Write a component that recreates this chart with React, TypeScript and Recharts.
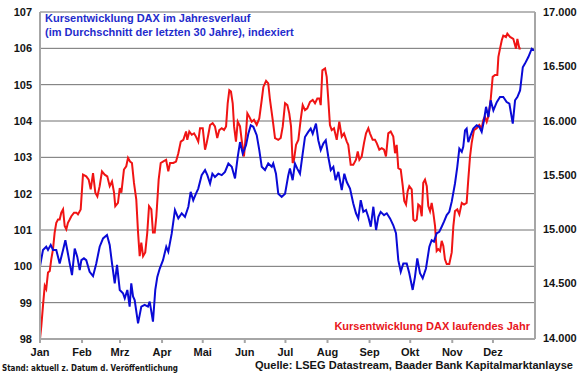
import { LineChart, Line, XAxis, YAxis, CartesianGrid } from "recharts";

const MONTH_STARTS = [0, 31, 59, 90, 120, 151, 181, 212, 243, 273, 304, 334];
const MONTH_LABELS = ["Jan", "Feb", "Mrz", "Apr", "Mai", "Jun", "Jul", "Aug", "Sep", "Okt", "Nov", "Dez"];
const LEFT_TICKS = [98, 99, 100, 101, 102, 103, 104, 105, 106, 107];
const RIGHT_TICKS = [14000, 14500, 15000, 15500, 16000, 16500, 17000];

// Saisonaler Verlauf (30-Jahres-Schnitt), indexiert, linke Achse
const SEASONAL_DAYS = [
  0, 2.2, 4.6, 5.9, 7.9, 9.6, 12.0, 14.5, 17.0, 18.7, 20.1, 21.9, 23.6, 25.6, 27.5, 29.3, 30.5, 32.4, 34.1, 36.6,
  39.1, 41.5, 44.0, 46.5, 49.4, 51.4, 53.1, 55.1, 56.8, 58.8, 61.2, 62.5, 64.4, 66.1, 67.3, 68.6, 69.8, 72.3, 74.7,
  77.2, 79.6, 80.9, 83.3, 85.0, 86.5, 88.3, 90.7, 93.1, 94.6, 97.1, 99.5, 102.0, 104.5, 106.9, 109.4, 111.1, 113.0,
  115.0, 116.7, 119.2, 121.7, 123.4, 125.4, 127.1, 129.0, 131.5, 134.0, 136.4, 138.9, 141.4, 143.8, 145.8, 147.5,
  149.5, 151.9, 153.6, 155.4, 157.3, 159.8, 161.7, 163.5, 165.9, 168.3, 170.9, 172.0, 174.0, 175.7, 178.2, 180.7,
  183.1, 184.3, 186.3, 188.0, 189.7, 191.7, 193.7, 195.4, 197.8, 199.6, 201.1, 203.5, 205.2, 207.0, 208.9, 210.7,
  212.6, 214.4, 216.3, 218.0, 220.0, 222.5, 224.4, 226.2, 228.6, 231.0, 233.0, 234.7, 236.5, 238.4, 240.4, 242.1,
  243.9, 245.8, 247.8, 249.5, 251.2, 253.7, 255.7, 258.1, 260.5, 262.5, 264.2, 266.0, 267.9, 270.4, 272.3, 274.8,
  276.5, 278.2, 280.2, 282.2, 284.6, 287.1, 288.8, 290.5, 292.5, 294.4, 296.2, 297.9, 299.9, 301.8, 303.6, 306.0,
  307.7, 309.2, 311.0, 312.1, 313.4, 314.6, 315.8, 317.6, 319.5, 322.0, 323.9, 325.7, 327.4, 328.9, 330.6, 332.3,
  334.3, 336.8, 339.2, 341.6, 344.1, 346.1, 348.6, 350.3, 352.0, 354.0, 356.0, 357.6, 360.1, 362.6, 364.5,
];
const SEASONAL_INDEX = [
  100.0, 100.45, 100.54, 100.45, 100.59, 100.45, 100.45, 100.08, 100.45, 100.72, 100.45, 100.08, 99.76, 100.49,
  100.26, 99.9, 100.17, 100.22, 100.17, 99.85, 99.73, 100.08, 100.54, 100.77, 100.86, 100.59, 100.08, 99.53, 100.04,
  99.35, 99.26, 99.12, 99.35, 98.89, 99.53, 99.17, 99.07, 98.43, 98.89, 98.94, 98.89, 99.03, 98.48, 99.35, 99.71,
  99.94, 100.17, 100.54, 100.4, 100.9, 101.55, 101.32, 101.46, 101.36, 101.64, 102.05, 101.82, 102.0, 102.14, 102.51,
  102.65, 102.51, 102.28, 102.55, 102.46, 102.55, 102.51, 102.6, 102.83, 102.74, 102.42, 103.01, 103.42, 103.1,
  103.33, 103.65, 103.88, 103.84, 103.61, 103.2, 102.74, 102.65, 102.83, 102.74, 102.83, 102.55, 102.0, 101.91, 102.0,
  102.51, 102.69, 102.37, 102.83, 102.69, 102.55, 103.1, 103.56, 103.7, 103.79, 103.65, 103.93, 103.47, 103.2,
  103.38, 103.47, 103.01, 102.65, 102.74, 102.37, 102.6, 102.1, 102.55, 102.32, 102.14, 101.73, 101.46, 101.32,
  101.82, 101.5, 101.55, 101.36, 101.09, 101.64, 101.0, 101.36, 101.5, 101.41, 101.46, 101.32, 101.13, 100.91,
  100.17, 99.85, 100.08, 100.08, 99.81, 99.35, 99.71, 100.22, 99.81, 99.67, 99.94, 100.54, 100.72, 100.68, 100.91,
  100.95, 101.09, 101.23, 101.41, 101.5, 101.78, 102.28, 102.74, 103.24, 103.15, 103.29, 103.74, 103.79, 103.42,
  103.61, 103.79, 103.88, 103.84, 103.7, 104.02, 104.39, 104.11, 104.57, 104.29, 104.52, 104.66, 104.66, 104.52,
  104.48, 103.93, 104.57, 104.66, 104.84, 105.48, 105.58, 105.76, 105.99, 105.94,
];

// DAX laufendes Jahr, rechte Achse
const CURRENT_DAYS = [
  0, 1.0, 2.2, 3.5, 4.6, 5.9, 7.2, 8.3, 9.6, 10.8, 12.0, 13.3, 14.5, 15.7, 17.0, 18.2, 19.4, 20.6, 21.9, 23.1, 25.1,
  26.8, 28.0, 30.0, 31.7, 34.1, 35.9, 37.4, 39.1, 40.8, 42.3, 44.0, 45.7, 47.7, 49.6, 51.4, 53.1, 54.6, 55.5, 57.5,
  58.8, 60.0, 61.9, 63.6, 64.9, 66.4, 67.8, 69.3, 71.0, 72.3, 73.5, 74.7, 76.0, 77.6, 79.1, 80.4, 82.1, 83.3, 84.6,
  85.8, 87.5, 89.0, 90.7, 93.0, 94.6, 95.9, 98.3, 100.3, 102.0, 103.8, 105.7, 107.7, 108.6, 110.1, 111.9, 113.6,
  115.0, 116.7, 118.0, 120.0, 121.7, 122.9, 124.1, 125.4, 127.3, 129.0, 130.7, 132.2, 134.0, 135.7, 137.2, 138.4,
  139.6, 140.8, 142.1, 143.1, 144.5, 145.8, 147.5, 148.7, 150.4, 151.9, 152.9, 154.3, 156.1, 157.8, 159.8, 161.7,
  163.5, 164.7, 166.7, 168.3, 169.6, 171.6, 173.3, 175.7, 177.5, 179.0, 180.7, 182.4, 183.8, 185.1, 186.3, 187.3,
  188.8, 190.5, 192.2, 193.7, 195.4, 197.1, 199.1, 201.1, 202.8, 204.5, 206.0, 207.0, 208.2, 210.2, 211.4, 212.6,
  213.8, 215.1, 216.8, 218.8, 220.7, 222.5, 224.2, 226.2, 227.3, 229.1, 231.0, 233.0, 234.3, 235.5, 237.2, 238.9,
  240.4, 242.1, 243.3, 245.3, 247.0, 248.3, 250.2, 252.0, 253.7, 255.1, 256.8, 258.6, 260.5, 261.8, 263.0, 264.2,
  266.0, 267.5, 268.6, 269.9, 271.1, 272.3, 274.1, 275.3, 276.5, 277.8, 278.9, 280.2, 281.5, 282.6, 283.9, 285.2,
  286.3, 287.6, 288.8, 290.0, 291.3, 292.5, 293.7, 295.0, 296.2, 297.4, 298.6, 299.9, 301.8, 303.6, 304.8, 306.0,
  307.7, 309.2, 311.0, 312.7, 314.6, 315.8, 317.1, 318.3, 320.0, 322.0, 323.9, 325.7, 326.9, 328.1, 329.4, 330.6,
  332.3, 333.8, 335.5, 337.2, 338.0, 339.2, 340.5, 341.6, 343.6, 344.6, 346.6, 349.0, 351.0, 352.0, 353.5, 354.5,
];
const CURRENT_DAX = [
  13990, 14113, 14297, 14480, 14450, 14603, 14617, 14723, 14817, 14970, 15060, 15090, 15090, 15153, 15183, 15030,
  15000, 15060, 15090, 15120, 15153, 15153, 15137, 15183, 15503, 15487, 15457, 15367, 15517, 15337, 15303, 15397,
  15533, 15503, 15487, 15397, 15440, 15337, 15213, 15243, 15380, 15337, 15550, 15580, 15657, 15623, 15610, 15427,
  15273, 14970, 14753, 14877, 14753, 14787, 14970, 15213, 15183, 14970, 14970, 15120, 15457, 15610, 15623, 15640,
  15533, 15610, 15610, 15623, 15700, 15807, 15823, 15900, 15823, 15900, 15870, 15883, 15853, 15807, 15930, 15930,
  15733, 15793, 15870, 15960, 15977, 15947, 15840, 15913, 15930, 15913, 15947, 16160, 16280, 16267, 16160, 15947,
  15807, 15990, 15947, 15823, 15670, 15883, 16067, 16037, 15990, 16007, 15960, 16020, 16190, 16310, 16367, 16343,
  16190, 16007, 15840, 15823, 15840, 15947, 16160, 16143, 16067, 15947, 15610, 15640, 15777, 15823, 16007, 16143,
  16097, 16113, 16173, 16190, 16160, 16203, 16203, 16143, 16463, 16480, 16403, 16190, 15960, 15913, 15930, 15823,
  15990, 15853, 15883, 15807, 15777, 15593, 15593, 15640, 15717, 15640, 15670, 15793, 15883, 15930, 15883, 15823,
  15823, 15793, 15733, 15747, 15733, 15670, 15883, 15900, 15853, 15700, 15777, 15563, 15550, 15397, 15260, 15227,
  15350, 15397, 15367, 15090, 15077, 15090, 15227, 15213, 15120, 15427, 15457, 15397, 15213, 15167, 15243, 15153,
  15030, 14800, 14817, 14800, 14893, 14847, 14723, 14680, 14680, 14787, 15030, 15167, 15183, 15137, 15243, 15227,
  15243, 15457, 15670, 15793, 15913, 15930, 15960, 15930, 16007, 16037, 15990, 16037, 16190, 16403, 16420, 16420,
  16587, 16663, 16740, 16783, 16770, 16800, 16770, 16753, 16663, 16753, 16663, 16663,
];

const seasonal = SEASONAL_DAYS.map((d, i) => ({ day: d, idx: SEASONAL_INDEX[i] }));
const current = CURRENT_DAYS.map((d, i) => ({ day: d, dax: CURRENT_DAX[i] }));

const FONT = "'Liberation Sans', Arial, sans-serif";
const tickStyle = { fill: "#141414", fontSize: 11, fontWeight: 700, fontFamily: FONT };

const fmtDax = (v: number) => `${Math.floor(v / 1000)}.${String(v % 1000).padStart(3, "0")}`;

export default function App() {
  return (
    <div style={{ position: "absolute", left: 0, top: 0, width: 580, height: 375, background: "#fff" }}>
      <LineChart width={580} height={375} margin={{ top: 12, right: 0, bottom: 16, left: 0 }}>
        <CartesianGrid yAxisId="left" vertical={false} stroke="#707070" strokeWidth={1} />
        <XAxis
          dataKey="day"
          type="number"
          domain={[0, 365]}
          ticks={MONTH_STARTS}
          interval={0}
          tickFormatter={(v: number) => MONTH_LABELS[MONTH_STARTS.indexOf(v)]}
          height={20}
          tickSize={4}
          tickMargin={5}
          stroke="#a6a6a6"
          strokeWidth={2}
          tick={tickStyle}
        />
        <YAxis
          yAxisId="left"
          orientation="left"
          domain={[98, 107]}
          ticks={LEFT_TICKS}
          interval={0}
          width={40}
          tickSize={0}
          tickMargin={8}
          stroke="#a6a6a6"
          strokeWidth={2}
          tick={tickStyle}
        />
        <YAxis
          yAxisId="right"
          orientation="right"
          domain={[14000, 17000]}
          ticks={RIGHT_TICKS}
          interval={0}
          width={45}
          tickSize={0}
          tickMargin={8}
          tickFormatter={fmtDax}
          stroke="#a6a6a6"
          strokeWidth={2}
          tick={tickStyle}
        />
        <Line
          yAxisId="right"
          data={current}
          dataKey="dax"
          type="linear"
          stroke="#f01414"
          strokeWidth={2}
          dot={false}
          isAnimationActive={false}
        />
        <Line
          yAxisId="left"
          data={seasonal}
          dataKey="idx"
          type="linear"
          stroke="#0a0ad6"
          strokeWidth={2}
          dot={false}
          isAnimationActive={false}
        />
      </LineChart>
      <svg
        width={580}
        height={375}
        style={{ position: "absolute", left: 0, top: 0, pointerEvents: "none" }}
        fontFamily={FONT}
        fontWeight={700}
      >
        <text x={45} y={21.5} fontSize={11} fill="#1f2ccc">
          Kursentwicklung DAX im Jahresverlauf
        </text>
        <text x={45} y={36} fontSize={11} fill="#1f2ccc">
          (im Durchschnitt der letzten 30 Jahre), indexiert
        </text>
        <text x={530} y={329.5} fontSize={11} fill="#e8161c" textAnchor="end">
          Kursentwicklung DAX laufendes Jahr
        </text>
        <text x={573} y={368.5} fontSize={11} fill="#141414" textAnchor="end" textLength={318} lengthAdjust="spacingAndGlyphs">
          Quelle: LSEG Datastream, Baader Bank Kapitalmarktanlayse
        </text>
        <text x={2} y={371} fontSize={9} fill="#141414" textLength={176} lengthAdjust="spacingAndGlyphs" fontFamily="'DejaVu Sans', Verdana, sans-serif">
          Stand: aktuell z. Datum d. Veröffentlichung
        </text>
      </svg>
    </div>
  );
}
